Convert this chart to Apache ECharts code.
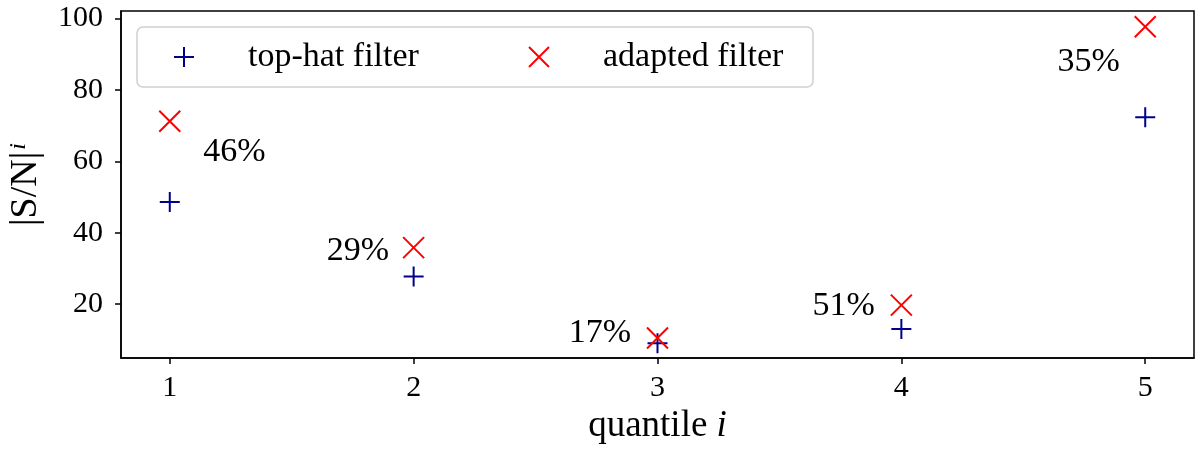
<!DOCTYPE html>
<html>
<head>
<meta charset="utf-8">
<script src="https://cdn.jsdelivr.net/npm/echarts@6/dist/echarts.min.js"></script>
<style>html,body{margin:0;padding:0;background:#fff;}#c{width:1200px;height:450px;}</style>
</head>
<body>
<div id="c"></div>
<script>
// ---- data ----
var quantiles = [1, 2, 3, 4, 5];
var topHat = [48.6, 27.7, 9.0, 13.0, 72.3];
var adapted = [71.2, 35.8, 10.5, 19.7, 97.7];
var gainLabels = ['46%', '29%', '17%', '51%', '35%'];
var xTicks = [1, 2, 3, 4, 5];
var yTicks = [20, 40, 60, 80, 100];
var seriesNames = ['top-hat filter', 'adapted filter'];

var FONT = '"Liberation Serif", "DejaVu Serif", serif';
// label placement relative to adapted markers (pixels)
var labelPlace = [
  {position: 'right', offset: [22, 31]},
  {position: 'left', offset: [-13, 3]},
  {position: 'left', offset: [-15, -5]},
  {position: 'left', offset: [-15, 1]},
  {position: 'left', offset: [-14, 35]}
];

var chart = echarts.init(document.getElementById('c'), null, {renderer: 'canvas'});
var plusPath = 'path://M0,10 L20,10 M10,0 L10,20';
var crossPath = 'path://M0,0 L20,20 M20,0 L0,20';

var option = {
  backgroundColor: '#fff',
  animation: false,
  grid: {left: 121, right: 6, top: 11, bottom: 92, outerBoundsMode: 'none', containLabel: false,
         show: true, borderColor: '#000', borderWidth: 1.5, backgroundColor: 'transparent'},
  legend: {
    data: seriesNames,
    left: 137, top: 27,
    orient: 'horizontal',
    itemWidth: 20, itemHeight: 20,
    itemGap: 85,
    padding: [13, 15, 13, 36],
    backgroundColor: '#fff',
    borderColor: '#cfcfcf',
    borderWidth: 1.5,
    borderRadius: 6,
    textStyle: {fontFamily: FONT, fontSize: 34, color: '#000', padding: [0, 0, 0, 49], width: 195, lineHeight: 32}
  },
  xAxis: {
    type: 'value', min: 0.8, max: 5.2,
    splitLine: {show: false},
    axisLine: {show: true, onZero: false, lineStyle: {color: '#000', width: 1.5}},
    axisTick: {show: true, length: 6, customValues: xTicks, lineStyle: {color: '#000', width: 1.5}},
    axisLabel: {customValues: xTicks, fontFamily: FONT, fontSize: 30, color: '#000', margin: 15},
    name: '{a|quantile }{b|i}',
    nameLocation: 'middle', nameGap: 45,
    nameTextStyle: {rich: {
      a: {fontFamily: FONT, fontSize: 37, color: '#000'},
      b: {fontFamily: FONT, fontSize: 37, fontStyle: 'italic', color: '#000'}
    }}
  },
  yAxis: {
    type: 'value', min: 4.88, max: 102.1,
    splitLine: {show: false},
    axisLine: {show: true, onZero: false, lineStyle: {color: '#000', width: 1.5}},
    axisTick: {show: true, length: 6, customValues: yTicks, lineStyle: {color: '#000', width: 1.5}},
    axisLabel: {customValues: yTicks, fontFamily: FONT, fontSize: 30, color: '#000', margin: 18},
    name: '{a||S/N|}{b|i}',
    nameLocation: 'middle', nameGap: 69,
    nameTextStyle: {rich: {
      a: {fontFamily: FONT, fontSize: 38, color: '#000', lineHeight: 38},
      b: {fontFamily: FONT, fontSize: 24, fontStyle: 'italic', color: '#000', verticalAlign: 'top', lineHeight: 38, padding: [0, 0, 16, 2]}
    }}
  },
  series: [
    {
      name: seriesNames[0], type: 'scatter',
      symbol: plusPath, symbolSize: 20,
      itemStyle: {color: 'rgba(0,0,0,0)', borderColor: '#00008b', borderWidth: 2, opacity: 1},
      data: quantiles.map(function (q, i) { return [q, topHat[i]]; }),
      z: 3
    },
    {
      name: seriesNames[1], type: 'scatter',
      symbol: crossPath, symbolSize: 21,
      itemStyle: {color: 'rgba(0,0,0,0)', borderColor: '#ff0000', borderWidth: 2, opacity: 1},
      data: quantiles.map(function (q, i) {
        return {
          value: [q, adapted[i]],
          label: {
            show: true, formatter: gainLabels[i],
            position: labelPlace[i].position, distance: 0, offset: labelPlace[i].offset,
            fontFamily: FONT, fontSize: 34, color: '#000'
          }
        };
      }),
      z: 4
    }
  ]
};
chart.setOption(option);
</script>
</body>
</html>
